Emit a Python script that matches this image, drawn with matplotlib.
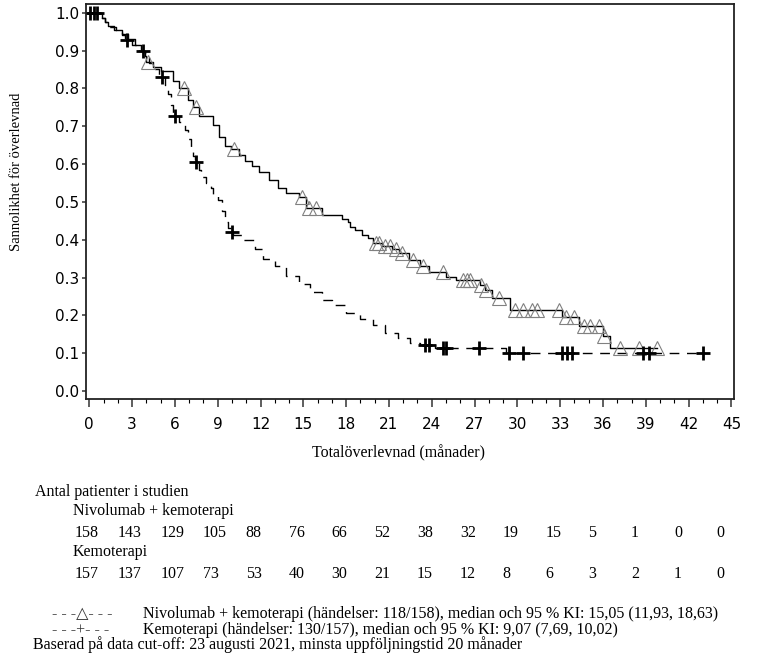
import numpy as np
import matplotlib
matplotlib.use("Agg")
from matplotlib import pyplot as plt
from matplotlib import transforms

SERIF = ["Liberation Serif", "DejaVu Serif"]
FS = 11.5

# Nivolumab + kemoterapi: step times (months) and survival after each step
nivo_t = [0, 0.87, 1.1, 1.3, 1.7, 2.3, 2.7, 3.2, 3.6, 3.9, 4.0, 4.5, 5.0, 5.9,
          6.3, 6.9, 7.3, 7.7, 8.7, 9.1, 9.5, 9.9, 10.5, 10.9, 11.4, 11.9, 12.6,
          13.2, 13.8, 14.7, 15.2, 16.3, 17.7, 18.1, 18.3, 18.6, 19.1, 19.5,
          19.9, 20.5, 21.2, 21.7, 22.4, 23.2, 23.8, 25.0, 25.7, 27.4, 27.7,
          28.2, 29.5, 33.1, 34.3, 36.0, 36.5]
nivo_s = [1.0, 0.987, 0.975, 0.965, 0.954, 0.944, 0.93, 0.915, 0.90, 0.885,
          0.869, 0.857, 0.845, 0.82, 0.80, 0.768, 0.752, 0.728, 0.702, 0.671,
          0.649, 0.640, 0.625, 0.609, 0.596, 0.579, 0.557, 0.538, 0.523, 0.513,
          0.483, 0.464, 0.456, 0.447, 0.434, 0.425, 0.412, 0.404, 0.390, 0.383,
          0.375, 0.364, 0.346, 0.33, 0.315, 0.302, 0.293, 0.28, 0.266, 0.245,
          0.214, 0.196, 0.172, 0.145, 0.113]
nivo_end = 39.8
nivo_cens = [4.13, 6.64, 7.45, 10.14, 14.9, 15.4, 15.9, 20.1, 20.3, 20.7, 21.1,
             21.5, 21.9, 22.7, 23.4, 24.8, 26.2, 26.5, 26.7, 27.45, 27.8, 28.7,
             29.8, 30.4, 31.0, 31.4, 32.9, 33.4, 34.0, 34.7, 35.1, 35.7, 36.1,
             37.2, 38.5, 39.8]

# Kemoterapi
chemo_t = [0, 0.87, 1.1, 1.4, 1.9, 2.3, 2.5, 3.0, 3.5, 3.9, 4.2, 4.6, 4.9, 5.3,
           5.5, 5.7, 5.9, 6.3, 6.7, 6.9, 7.1, 7.3, 7.4, 7.7, 7.85, 8.2, 8.5,
           8.7, 9.0, 9.3, 9.5, 9.75, 9.9, 10.1, 10.8, 11.6, 12.2, 13.0, 13.8,
           14.7, 15.5, 16.3, 17.0, 18.0, 19.0, 19.9, 20.7, 21.6, 22.5, 23.2,
           24.2, 29.2]
chemo_s = [1.0, 0.987, 0.975, 0.962, 0.955, 0.94, 0.928, 0.915, 0.90, 0.885,
           0.868, 0.85, 0.831, 0.81, 0.785, 0.755, 0.728, 0.71, 0.69, 0.665,
           0.644, 0.62, 0.605, 0.585, 0.565, 0.549, 0.538, 0.522, 0.504, 0.477,
           0.446, 0.43, 0.42, 0.412, 0.398, 0.375, 0.348, 0.33, 0.303, 0.284,
           0.262, 0.24, 0.227, 0.205, 0.19, 0.174, 0.153, 0.139, 0.126, 0.121,
           0.113, 0.100]
chemo_end = 43.0
chemo_cens = [0.05, 0.3, 0.55, 2.62, 3.74, 5.07, 6.0, 7.48, 10.0, 23.5, 23.8,
              24.8, 25.0, 27.3, 29.4, 30.4, 33.1, 33.5, 33.8, 38.8, 39.2, 43.0]

risk_times = list(range(0, 46, 3))
risk_nivo = [158, 143, 129, 105, 88, 76, 66, 52, 38, 32, 19, 15, 5, 1, 0, 0]
risk_chemo = [157, 137, 107, 73, 53, 40, 30, 21, 15, 12, 8, 6, 3, 2, 1, 0]

W, H = 762, 660


def fy(px):
    return 1 - px / H


def stepAt(times, surv, t):
    i = np.searchsorted(times, t, side="right") - 1
    return np.array(surv)[i]


fig = plt.figure(figsize=(W / 100, H / 100), dpi=100)
ax = fig.add_axes([86 / W, fy(399), (734 - 86) / W, (399 - 4) / H])

ax.step(nivo_t + [nivo_end], nivo_s + [nivo_s[-1]], where="post",
        color="black", lw=1.0)
ax.step(chemo_t + [chemo_end], chemo_s + [chemo_s[-1]], where="post",
        color="black", lw=1.0, linestyle=(0, (7, 5.5)))

ax.plot(nivo_cens, stepAt(nivo_t, nivo_s, nivo_cens), linestyle="none",
        marker="^", ms=9.5, mfc="none", mec="#808080", mew=0.8)
ax.plot(chemo_cens, stepAt(chemo_t, chemo_s, chemo_cens), linestyle="none",
        marker="+", ms=10, mec="black", mew=2.0)

ax.set_xlim(-0.23, 45.18)
ax.set_ylim(-0.021, 1.023)
ax.set_xticks(risk_times)
ax.set_xticks(np.arange(0, 46, 1), minor=True)
ax.set_yticks(np.arange(0, 1.01, 0.1))
ax.set_yticklabels([f"{v:.1f}" for v in np.arange(0, 1.01, 0.1)])
ax.tick_params(axis="both", labelsize=11, color="#333333", width=1.1)
ax.tick_params(axis="x", which="major", length=6, pad=7)
ax.tick_params(axis="x", which="minor", length=3, width=0.8)
ax.tick_params(axis="y", length=3, pad=2)
for sp in ax.spines.values():
    sp.set_linewidth(1.3)
    sp.set_color("#222222")

fig.text(17 / W, fy(172), "Sannolikhet för överlevnad", rotation=90,
         ha="center", va="center", family=SERIF, fontsize=10.5)
fig.text(398 / W, fy(453), "Totalöverlevnad (månader)", ha="center",
         va="center", family=SERIF, fontsize=FS)

# risk table
trans = transforms.blended_transform_factory(ax.transData, fig.transFigure)
fig.text(35 / W, fy(492), "Antal patienter i studien", ha="left",
         va="center", family=SERIF, fontsize=FS)
fig.text(73 / W, fy(511), "Nivolumab + kemoterapi", ha="left", va="center",
         family=SERIF, fontsize=FS)
fig.text(73 / W, fy(552), "Kemoterapi", ha="left", va="center",
         family=SERIF, fontsize=FS)
for t, a, b in zip(risk_times, risk_nivo, risk_chemo):
    ax.text(t - 1.03, fy(533), str(a), transform=trans, ha="left",
            va="center", family=SERIF, fontsize=FS, clip_on=False)
    ax.text(t - 1.03, fy(574), str(b), transform=trans, ha="left",
            va="center", family=SERIF, fontsize=FS, clip_on=False)

# legend lines
fig.text(52 / W, fy(614), "- - -\u25b3- - -", ha="left", va="center",
         family=SERIF, fontsize=FS, color="#333333")
fig.text(52 / W, fy(630), "- - -+- - -", ha="left", va="center",
         family=SERIF, fontsize=FS, color="#333333")
fig.text(143 / W, fy(614),
         "Nivolumab + kemoterapi (händelser: 118/158), median och 95 % KI: "
         "15,05 (11,93, 18,63)", ha="left", va="center", family=SERIF,
         fontsize=FS)
fig.text(143 / W, fy(630),
         "Kemoterapi (händelser: 130/157), median och 95 % KI: 9,07 (7,69, "
         "10,02)", ha="left", va="center", family=SERIF, fontsize=FS)
fig.text(33 / W, fy(645),
         "Baserad på data cut-off: 23 augusti 2021, minsta uppföljningstid 20 "
         "månader", ha="left", va="center", family=SERIF, fontsize=FS)

fig.savefig("out.png", dpi=100)
